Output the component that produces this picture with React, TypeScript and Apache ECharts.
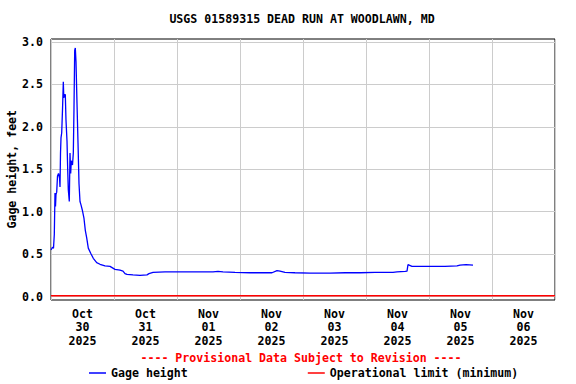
import React, { useEffect, useRef } from "react";
import * as echarts from "echarts";

const TITLE = "USGS 01589315 DEAD RUN AT WOODLAWN, MD";
const dayLabels = [
  "Oct\n30\n2025",
  "Oct\n31\n2025",
  "Nov\n01\n2025",
  "Nov\n02\n2025",
  "Nov\n03\n2025",
  "Nov\n04\n2025",
  "Nov\n05\n2025",
  "Nov\n06\n2025",
];
// hours since 2025-10-30 00:00
const hoursFromOct30 = [
  0.0, 0.2, 0.57, 0.95, 1.26, 1.52, 1.71, 1.9, 2.17, 2.48, 2.86, 3.24, 3.43, 3.62, 3.81, 4.08,
  4.38, 4.69, 4.88, 5.07, 5.45, 5.71, 6.1, 6.36, 6.59, 6.97, 7.24, 7.5, 7.73, 8.19, 8.5, 8.76,
  9.03, 9.26, 9.52, 9.9, 10.29, 10.67, 11.05, 11.43, 11.92, 12.57, 13.07, 13.6, 14.21, 15.12,
  16.11, 17.41, 18.67, 20.57, 22.48, 24.38, 26.29, 27.43, 28.19, 28.95, 31.24, 33.9, 36.57,
  37.33, 38.86, 43.43, 49.14, 54.86, 61.71, 63.62, 65.52, 70.1, 75.8, 81.5, 84.19, 86.1, 87.24,
  89.14, 92.95, 98.67, 106.29, 112.0, 117.71, 123.43, 130.29, 131.81, 134.86, 135.62, 136.0,
  137.52, 144.38, 150.1, 154.67, 155.81, 158.1, 160.76,
];
const gageHeightFt = [
  0.55, 0.56, 0.58, 0.57, 0.73, 1.22, 1.06, 1.2, 1.23, 1.42, 1.45, 1.4, 1.29, 1.69, 1.87, 1.93,
  2.2, 2.53, 2.34, 2.38, 2.38, 2.08, 1.83, 1.5, 1.26, 1.12, 1.69, 1.45, 1.6, 1.55, 1.69, 2.22,
  2.9, 2.93, 2.77, 2.28, 1.81, 1.33, 1.12, 1.08, 1.02, 0.92, 0.78, 0.69, 0.57, 0.51,
  0.45, 0.4, 0.38, 0.36, 0.355, 0.32, 0.31, 0.3, 0.27, 0.26, 0.255, 0.25, 0.255,
  0.27, 0.285, 0.29, 0.29, 0.29, 0.29, 0.295, 0.29, 0.285, 0.28, 0.28, 0.28, 0.305, 0.3,
  0.285, 0.28, 0.275, 0.275, 0.28, 0.28, 0.285, 0.285, 0.29, 0.295, 0.3, 0.375,
  0.355, 0.355, 0.355, 0.36, 0.37, 0.375, 0.37,
];
const operationalLimitFt = 0.01;

const FONT = "DejaVu Sans Mono";
const FS = 11.6;

export default function App() {
  const ref = useRef<HTMLDivElement>(null);
  useEffect(() => {
    if (!ref.current) return;
    const chart = echarts.init(ref.current, null, { renderer: "svg" });
    const totalHours = dayLabels.length * 24;
    const txt = { fontFamily: FONT, fontWeight: "bold" as const, fontSize: FS, color: "#000" };
    chart.setOption({
      animation: false,
      backgroundColor: "#fff",
      title: {
        text: TITLE,
        left: 302,
        textAlign: "center",
        top: 13,
        padding: 0,
        textStyle: { ...txt },
      },
      grid: [
        {
          left: 51, right: 21, top: 39, bottom: 84,
          show: true, borderColor: "#000", borderWidth: 1, backgroundColor: "transparent",
          outerBoundsMode: "none", containLabel: false,
        },
        {
          left: 51, right: 21, top: 42, bottom: 87.5, show: false,
          outerBoundsMode: "none", containLabel: false,
        },
      ],
      xAxis: [
        {
          type: "category",
          gridIndex: 0,
          data: dayLabels,
          boundaryGap: true,
          axisLine: { show: false },
          axisTick: { show: false },
          splitLine: { show: true, lineStyle: { color: "#cccccc", width: 1 } },
          axisLabel: { ...txt, margin: 7, lineHeight: 13.4, interval: 0 },
        },
        { type: "value", gridIndex: 1, min: 0, max: totalHours, show: false },
      ],
      yAxis: [
        { type: "value", gridIndex: 0, show: false, min: 0, max: 1 },
        {
          type: "value",
          gridIndex: 1,
          min: 0,
          max: 3,
          interval: 0.5,
          axisLine: { show: false },
          axisTick: { show: false },
          splitLine: { show: true, lineStyle: { color: "#cccccc", width: 1 } },
          axisLabel: { ...txt, margin: 8, formatter: (v: number) => v.toFixed(1) },
          name: "Gage height, feet",
          nameLocation: "middle",
          nameGap: 33,
          nameRotate: 90,
          nameMoveOverlap: false,
          nameTextStyle: { ...txt },
        },
      ],
      legend: {
        left: 89,
        top: 367,
        padding: 0,
        itemWidth: 17,
        itemHeight: 1.5,
        itemGap: 120,
        itemTextGap: 6,
        icon: "rect",
        textStyle: { ...txt },
        data: ["Gage height", "Operational limit (minimum)"],
      },
      graphic: [
        {
          type: "text",
          x: 301,
          y: 358,
          style: {
            text: "---- Provisional Data Subject to Revision ----",
            fill: "#ff0000",
            font: `bold ${FS}px "${FONT}"`,
            textAlign: "center",
            textVerticalAlign: "middle",
          },
        },
      ],
      series: [
        {
          name: "Operational limit (minimum)",
          type: "line",
          xAxisIndex: 1,
          yAxisIndex: 1,
          data: [
            [0, operationalLimitFt],
            [totalHours, operationalLimitFt],
          ],
          symbol: "none",
          lineStyle: { color: "#ff0000", width: 1.5 },
          itemStyle: { color: "#ff0000" },
          silent: true,
        },
        {
          name: "Gage height",
          type: "line",
          xAxisIndex: 1,
          yAxisIndex: 1,
          data: hoursFromOct30.map((h, i) => [h, gageHeightFt[i]]),
          symbol: "none",
          lineStyle: { color: "#0000ff", width: 1.3 },
          itemStyle: { color: "#0000ff" },
          silent: true,
        },
      ],
    });
    return () => chart.dispose();
  }, []);
  return <div ref={ref} style={{ width: 576, height: 384, position: "absolute", left: 0, top: 0 }} />;
}
